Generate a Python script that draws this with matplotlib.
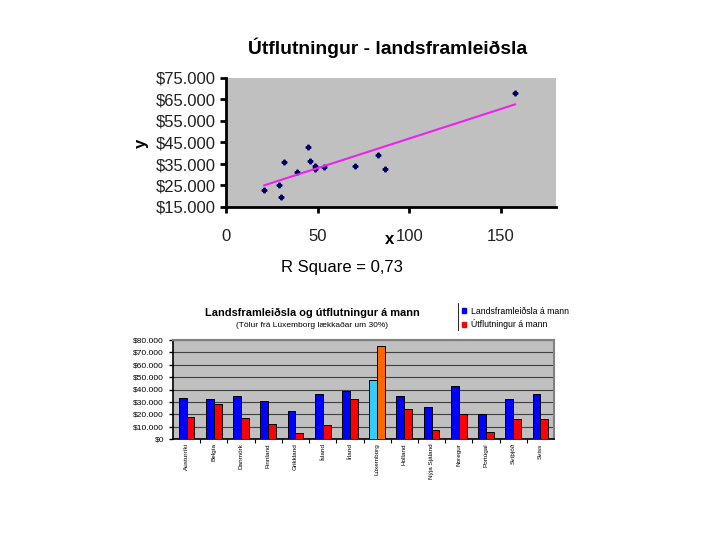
import numpy as np
import matplotlib
matplotlib.use('Agg')
import matplotlib.pyplot as plt
from matplotlib.ticker import FuncFormatter
from matplotlib.patches import Patch
from matplotlib.lines import Line2D

plt.rcParams['font.family'] = ['Liberation Sans', 'DejaVu Sans']

# scatter: x, y (landsframleidsla)
sc_x = [20.9, 29.0, 29.9, 31.6, 38.6, 44.6, 45.7, 48.8, 48.8, 53.7, 70.5, 82.9, 86.7, 157.6]
sc_y = [22800, 25300, 19700, 35900, 31200, 42900, 36400, 34200, 32600, 33400, 34000, 39000, 32500, 68000]
r_square = "0,73"

# bars
countries = ['Austurríki', 'Belgía', 'Danmörk', 'Finnland', 'Grikkland', 'Ísland', 'Írland',
             'Lúxemborg', 'Holland', 'Nýja Sjáland', 'Noregur', 'Portúgal', 'Svíþjóð', 'Sviss']
gdp = [33500, 32500, 34500, 31000, 23000, 36000, 39000, 48000, 34500, 25500, 43000, 20000, 32500, 36000]
exports = [18000, 28000, 17000, 12500, 5000, 11000, 32000, 75000, 24500, 7000, 20000, 6000, 16000, 16500]

def dollar(v, pos):
    return '$' + '{:,.0f}'.format(v).replace(',', '.')

fig = plt.figure(figsize=(7.2, 5.4), dpi=100)
fig.patch.set_facecolor('white')

# ---- top: scatter with trend line
ax1 = fig.add_axes([226/720, 1-207/540, 330/720, 129/540])
ax1.set_facecolor('#c0c0c0')
ax1.plot(sc_x, sc_y, linestyle='none', marker='P', markersize=3.3, color='#000066')
k, b = np.polyfit(sc_x, sc_y, 1)
xs = np.array([min(sc_x), max(sc_x)])
ax1.plot(xs, k*xs + b, color='#ee22ee', linewidth=1.5)
ax1.set_xlim(0, 180)
ax1.set_ylim(15000, 75000)
ax1.set_xticks([0, 50, 100, 150])
ax1.set_yticks(range(15000, 75001, 10000))
ax1.yaxis.set_major_formatter(FuncFormatter(dollar))
for s in ['top', 'right']:
    ax1.spines[s].set_visible(False)
for s in ['left', 'bottom']:
    ax1.spines[s].set_linewidth(2)
ax1.tick_params(axis='both', labelsize=12, width=2, length=4, labelcolor='#202020')
ax1.tick_params(axis='x', pad=12)
fig.text(388/720, 1-48/540, 'Útflutningur - landsframleiðsla', ha='center', va='center',
         fontsize=13.9, fontweight='bold')
fig.text(141/720, 1-143/540, 'y', rotation=90, ha='center', va='center', fontsize=12, fontweight='bold')
fig.text(390/720, 1-240/540, 'x', ha='center', va='center', fontsize=12, fontweight='bold')
fig.text(342/720, 1-268/540, 'R Square = ' + r_square, ha='center', va='center', fontsize=12)

# ---- bottom: grouped bars
ax2 = fig.add_axes([173/720, 1-439/540, 381/720, 99/540])
ax2.set_facecolor('#c0c0c0')
pos = np.arange(len(countries))
w = 0.29
c_gdp = ['#33ccff' if c == 'Lúxemborg' else '#0000ff' for c in countries]
c_exp = ['#ff6600' if c == 'Lúxemborg' else '#ff0000' for c in countries]
ax2.bar(pos - w/2, gdp, w, color=c_gdp, edgecolor='black', linewidth=0.7, zorder=3)
ax2.bar(pos + w/2, exports, w, color=c_exp, edgecolor='black', linewidth=0.7, zorder=3)
ax2.set_xlim(-0.5, len(countries) - 0.5)
ax2.set_ylim(0, 80000)
ax2.set_yticks(range(0, 80001, 10000))
ax2.yaxis.set_major_formatter(FuncFormatter(dollar))
ax2.yaxis.grid(True, color='#404040', linewidth=0.8, zorder=1)
ax2.set_xticks(pos)
ax2.set_xticklabels(countries, rotation=90, fontsize=4.6)
ax2.set_xticks(pos[:-1] + 0.5, minor=True)
ax2.tick_params(axis='x', which='major', length=0, pad=3)
ax2.tick_params(axis='x', which='minor', length=3, width=0.8)
ax2.tick_params(axis='y', labelsize=6, length=3, width=1)
for s in ['top', 'right']:
    ax2.spines[s].set_color('#808080')
    ax2.spines[s].set_linewidth(1.5)
for s in ['left', 'bottom']:
    ax2.spines[s].set_linewidth(1.2)

fig.text(312/720, 1-313/540, 'Landsframleiðsla og útflutningur á mann', ha='center', va='center',
         fontsize=7.9, fontweight='bold')
fig.text(312/720, 1-325/540, '(Tölur frá Lúxemborg lækkaðar um 30%)', ha='center', va='center',
         fontsize=6)

fig.add_artist(Line2D([458/720, 458/720], [1-303/540, 1-330/540], color='black', linewidth=0.6))
handles = [Patch(color='#0000ff', label='Landsframleiðsla á mann'),
           Patch(color='#ff0000', label='Útflutningur á mann')]
fig.legend(handles=handles, loc='upper left', bbox_to_anchor=(458/720, 1-303/540), frameon=False,
           fontsize=6.3, handlelength=0.55, handleheight=0.55, handletextpad=0.5, borderaxespad=0,
           labelspacing=0.45)

fig.savefig('out.png', dpi=100)
